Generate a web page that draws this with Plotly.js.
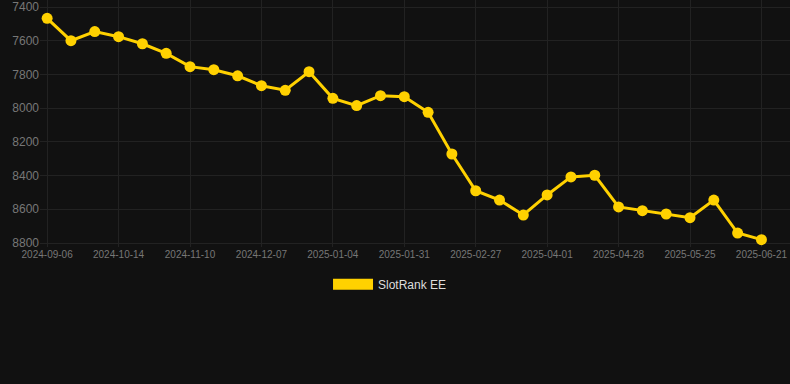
<!DOCTYPE html>
<html>
<head>
<meta charset="utf-8">
<script src="https://cdn.plot.ly/plotly-3.0.1.min.js"></script>
<style>
  html, body { margin: 0; padding: 0; background: #111111; }
  #chart { width: 790px; height: 384px; }
</style>
</head>
<body>
<div id="chart"></div>
<script>
const dates = [
  "2024-09-06","2024-09-19","2024-10-01","2024-10-14","2024-10-23","2024-11-01",
  "2024-11-10","2024-11-19","2024-11-28","2024-12-07","2024-12-16","2024-12-25",
  "2025-01-04","2025-01-13","2025-01-22","2025-01-31","2025-02-09","2025-02-18",
  "2025-02-27","2025-03-10","2025-03-21","2025-04-01","2025-04-10","2025-04-19",
  "2025-04-28","2025-05-07","2025-05-16","2025-05-25","2025-06-03","2025-06-12",
  "2025-06-21"
];
const ranks = [
  7467, 7600, 7546, 7576, 7618, 7675,
  7754, 7772, 7808, 7867, 7894, 7784,
  7942, 7985, 7926, 7932, 8025, 8272,
  8490, 8545, 8634, 8515, 8408, 8398,
  8586, 8608, 8628, 8650, 8545, 8741,
  8780
];
const tickDates = dates.filter((d, i) => i % 3 === 0);
const seriesName = "SlotRank EE";
const yTicks = [7400, 7600, 7800, 8000, 8200, 8400, 8600, 8800];

const gold = "#FFD100";

const traces = [
  {
    x: dates, y: ranks, type: "scatter", mode: "lines+markers",
    line: { color: gold, width: 3 },
    marker: { color: gold, size: 11 },
    showlegend: false, name: seriesName,
    hoverinfo: "x+y"
  },
  {
    x: [null], y: [null], type: "scatter", mode: "lines",
    line: { color: gold, width: 11 },
    name: seriesName, showlegend: true, hoverinfo: "skip"
  }
];

const layout = {
  width: 790, height: 384,
  paper_bgcolor: "#111111", plot_bgcolor: "#111111",
  font: { family: "Liberation Sans, Arial, sans-serif", color: "#777777", size: 11 },
  margin: { l: 40, r: 0, t: 0, b: 137 },
  xaxis: {
    type: "category",
    range: [-0.3, 31.2],
    tickvals: tickDates, ticktext: tickDates,
    tickfont: { size: 10, color: "#777777" },
    showgrid: true, gridcolor: "#222222", gridwidth: 1,
    zeroline: false, showline: false, ticks: ""
  },
  yaxis: {
    autorange: false,
    range: [8823.7, 7358.5],
    tickvals: yTicks,
    tickfont: { size: 12, color: "#777777" },
    showgrid: true, gridcolor: "#222222", gridwidth: 1,
    zeroline: false, showline: false, ticks: ""
  },
  showlegend: true,
  legend: {
    orientation: "h", x: 0.4667, xanchor: "center", y: -0.092, yanchor: "top",
    font: { size: 12, color: "#dddddd" },
    bgcolor: "rgba(0,0,0,0)", itemwidth: 40
  }
};

Plotly.newPlot("chart", traces, layout, { displayModeBar: false, staticPlot: true }).then(function () {
  // make the legend swatch a flat 40x11 bar like the reference
  document.querySelectorAll("#chart .legend .traces path.js-line").forEach(function (p) {
    p.setAttribute("d", "M5,0h40");
    p.style.strokeWidth = "11px";
    p.style.strokeLinecap = "butt";
  });
});
</script>
</body>
</html>
